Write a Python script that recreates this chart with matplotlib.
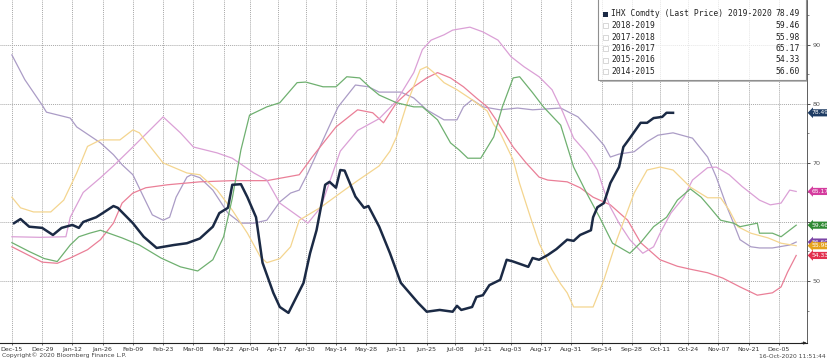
import matplotlib
matplotlib.use("Agg")
import matplotlib.pyplot as plt
from matplotlib.patches import Rectangle

# ---------------- data (x = calendar days after Dec-15) ----------------
tick_days = [0, 14, 28, 42, 56, 70, 84, 98, 110, 123, 136, 150, 164, 178, 192,
             205, 218, 231, 245, 259, 273, 287, 300, 313, 327, 341, 355]
tick_labels = ['Dec-15', 'Dec-29', 'Jan-12', 'Jan-26', 'Feb-09', 'Feb-23', 'Mar-08',
               'Mar-22', 'Apr-04', 'Apr-17', 'Apr-30', 'May-14', 'May-28', 'Jun-11',
               'Jun-25', 'Jul-08', 'Jul-21', 'Aug-03', 'Aug-17', 'Aug-31', 'Sep-14',
               'Sep-28', 'Oct-11', 'Oct-24', 'Nov-07', 'Nov-21', 'Dec-05']
ytick_values = [50, 60, 70, 80, 90]
ytick_labels = ['50', '', '70', '80', '90']   # "60" is hidden behind a value tag

days_2019 = [1, 4, 8, 14, 19, 23, 28, 31, 33, 39, 42, 47, 49, 56, 61, 67, 75, 81, 87, 93,
             96, 100, 102, 106, 109, 113, 116, 121, 124, 128, 135, 138, 141, 145, 147, 150,
             152, 154, 159, 163, 165, 170, 175, 180, 188, 192, 198, 204, 206, 208, 213, 215,
             218, 221, 226, 229, 232, 239, 241, 244, 248, 252, 257, 260, 263, 268, 269, 271,
             274, 277, 281, 283, 286, 291, 294, 297, 301, 303, 306]
vals_2019 = [59.8, 60.5, 59.2, 59.0, 57.8, 59.0, 59.5, 59.0, 60.0, 60.8, 61.5, 62.7, 62.4,
             59.8, 57.5, 55.6, 56.1, 56.4, 57.2, 59.2, 61.5, 62.4, 66.3, 66.4, 64.2, 60.8,
             53.1, 48.0, 45.6, 44.6, 49.7, 54.7, 58.6, 66.3, 66.8, 65.8, 68.8, 68.7, 64.3,
             62.4, 62.7, 59.2, 54.7, 49.7, 46.3, 44.8, 45.1, 44.8, 45.8, 45.1, 45.6, 47.3,
             47.6, 49.3, 50.2, 53.6, 53.3, 52.4, 53.9, 53.6, 54.4, 55.4, 57.0, 56.8, 57.8,
             58.6, 60.8, 62.5, 63.2, 66.6, 69.3, 72.7, 74.2, 76.8, 76.8, 77.6, 77.8, 78.5,
             78.49]

days_2018 = [0, 8, 15, 21, 27, 31, 36, 41, 51, 59, 69, 78, 86, 93, 98, 102, 106, 110, 118,
             124, 132, 136, 144, 150, 155, 161, 166, 170, 178, 186, 190, 197, 203, 207, 211,
             217, 223, 227, 232, 235, 241, 246, 254, 260, 266, 272, 278, 286, 291, 297, 303,
             308, 314, 319, 323, 328, 334, 337, 345, 346, 352, 356, 363]
vals_2018 = [56.5, 55.0, 53.8, 53.3, 56.1, 57.5, 58.1, 58.6, 57.3, 56.1, 53.9, 52.4, 51.7,
             53.6, 57.5, 64.0, 72.2, 78.1, 79.5, 80.2, 83.6, 83.7, 82.9, 82.9, 84.6, 84.4,
             82.7, 81.5, 80.2, 79.5, 79.5, 77.3, 73.4, 72.2, 70.8, 70.8, 74.4, 79.5, 84.4,
             84.6, 81.9, 79.5, 76.4, 69.3, 64.9, 60.8, 56.4, 54.7, 56.5, 59.2, 60.8, 63.7,
             65.6, 64.2, 62.5, 60.3, 59.8, 59.2, 59.8, 58.1, 58.1, 57.5, 59.46]

days_2017 = [0, 4, 10, 18, 24, 30, 35, 41, 50, 56, 59, 70, 81, 87, 95, 102, 109, 115, 118,
             124, 129, 133, 143, 152, 160, 170, 175, 178, 183, 189, 192, 195, 200, 206, 213,
             220, 223, 226, 232, 235, 240, 244, 250, 254, 257, 260, 269, 274, 280, 288, 294,
             300, 306, 314, 322, 328, 332, 336, 342, 350, 356, 363]
vals_2017 = [64.2, 62.4, 61.7, 61.7, 63.7, 68.3, 72.8, 73.9, 73.9, 75.6, 75.1, 70.0, 68.3,
             68.0, 65.4, 62.0, 58.1, 54.1, 53.1, 53.8, 55.8, 60.3, 62.5, 64.9, 67.0, 69.5,
             72.0, 74.4, 80.2, 85.8, 86.3, 85.4, 83.6, 82.4, 80.7, 78.8, 76.5, 75.1, 70.5,
             66.5, 60.8, 56.4, 51.9, 49.5, 48.0, 45.6, 45.6, 50.2, 57.0, 64.9, 68.8, 69.3,
             68.8, 65.9, 64.1, 64.1, 62.0, 59.2, 58.1, 57.3, 56.4, 55.98]

days_2016 = [0, 13, 25, 27, 33, 41, 47, 56, 70, 78, 84, 95, 102, 112, 118, 124, 137, 143,
             152, 160, 170, 178, 186, 190, 194, 200, 204, 212, 218, 225, 231, 237, 244, 250,
             255, 260, 266, 271, 274, 277, 281, 286, 292, 297, 300, 305, 311, 315, 322, 326,
             332, 338, 346, 351, 356, 360, 363]
vals_2016 = [57.5, 57.4, 57.5, 60.8, 65.0, 67.5, 69.5, 72.7, 77.8, 75.1, 72.7, 71.7, 70.8,
             68.3, 67.1, 63.2, 59.8, 62.5, 72.0, 75.5, 77.5, 80.5, 85.3, 89.2, 90.8, 91.7,
             92.5, 93.0, 92.2, 90.8, 88.0, 86.3, 84.6, 82.4, 78.6, 74.2, 71.7, 68.8, 65.4,
             62.5, 59.8, 57.0, 54.7, 55.8, 58.1, 61.5, 64.2, 67.1, 69.2, 69.3, 68.0, 66.0,
             63.7, 62.9, 63.2, 65.4, 65.17]

days_2015 = [0, 14, 21, 27, 35, 41, 47, 51, 56, 62, 72, 81, 87, 102, 118, 133, 139, 150,
             160, 167, 172, 178, 186, 192, 197, 203, 209, 215, 220, 225, 232, 238, 244, 248,
             257, 263, 269, 277, 285, 291, 300, 308, 314, 322, 329, 337, 345, 352, 356, 359,
             363]
vals_2015 = [55.8, 53.2, 53.0, 53.9, 55.3, 57.0, 59.8, 63.2, 64.9, 65.8, 66.3, 66.6, 66.8,
             67.0, 67.0, 68.0, 71.0, 76.1, 79.0, 78.5, 76.8, 80.2, 82.9, 84.4, 85.3, 84.4,
             82.9, 81.0, 79.5, 76.8, 72.7, 70.0, 67.6, 67.1, 66.8, 65.8, 64.2, 62.9, 60.3,
             56.5, 53.6, 52.5, 52.0, 51.4, 50.5, 49.0, 47.6, 48.0, 49.0, 51.5, 54.33]

days_2014 = [0, 6, 14, 16, 27, 30, 41, 47, 51, 56, 61, 65, 70, 73, 76, 81, 83, 87, 93, 100,
             106, 112, 118, 124, 129, 133, 137, 144, 151, 159, 165, 170, 180, 186, 192, 200,
             206, 209, 213, 218, 226, 234, 241, 254, 262, 269, 274, 277, 281, 288, 294, 299,
             306, 313, 315, 322, 326, 331, 334, 337, 342, 346, 352, 360, 363]
vals_2014 = [88.3, 84.1, 79.8, 78.6, 77.6, 76.1, 73.4, 71.4, 69.7, 68.0, 64.2, 61.2, 60.3,
             60.8, 64.2, 67.6, 68.0, 67.5, 65.4, 61.5, 59.8, 59.8, 60.3, 63.4, 64.9, 65.4,
             68.3, 73.9, 79.5, 83.2, 82.9, 82.0, 82.0, 81.0, 79.0, 77.3, 77.3, 79.5, 80.7,
             79.5, 79.0, 79.3, 79.0, 79.3, 77.8, 75.1, 73.0, 71.0, 71.5, 71.9, 73.6, 74.7,
             75.1, 74.4, 74.2, 71.0, 67.6, 62.5, 59.8, 57.0, 55.8, 55.6, 55.6, 56.1, 56.60]

series_names = ['IHX Comdty (Last Price) 2019-2020', '2018-2019', '2017-2018',
                '2016-2017', '2015-2016', '2014-2015']
last_values = [78.49, 59.46, 55.98, 65.17, 54.33, 56.60]
line_colors = ['#1b2a45', '#6fb070', '#f4d58f', '#dba0d6', '#ea7f97', '#ab9cc6']
tag_colors = ['#1d3b63', '#2f8a33', '#e5a21c', '#d43c9e', '#e2314f', '#7b45a6']

W, H = 828, 360
fig = plt.figure(figsize=(W / 100, H / 100), dpi=100)
fig.patch.set_facecolor('white')
ax_left, ax_right, ax_bottom = 0, 807, 343
ax = fig.add_axes([ax_left / W, 1 - ax_bottom / H, (ax_right - ax_left) / W, ax_bottom / H])
ax.set_xlim(-5.5, 368)
ax.set_ylim(39.5, 97.6)

# grid
for d in tick_days:
    ax.axvline(d, color='#a8a8a8', lw=0.7, ls=(0, (1, 1)), zorder=1)
for v in ytick_values:
    ax.axhline(v, color='#a8a8a8', lw=0.7, ls=(0, (1, 1)), zorder=1)

all_days = [days_2019, days_2018, days_2017, days_2016, days_2015, days_2014]
all_vals = [vals_2019, vals_2018, vals_2017, vals_2016, vals_2015, vals_2014]
for i in range(5, 0, -1):
    ax.plot(all_days[i], all_vals[i], color=line_colors[i], lw=0.9, zorder=2)
ax.plot(days_2019, vals_2019, color=line_colors[0], lw=1.8, zorder=3,
        solid_joinstyle='round')

# axes styling
for s in ['top', 'left']:
    ax.spines[s].set_visible(False)
ax.spines['bottom'].set_color('#222222')
ax.spines['bottom'].set_linewidth(0.8)
ax.spines['right'].set_color('#444444')
ax.spines['right'].set_linewidth(0.6)
ax.yaxis.tick_right()
ax.set_yticks(ytick_values)
ax.set_yticklabels(ytick_labels)
ax.set_yticks([45, 55, 65, 75, 85, 95], minor=True)
ax.tick_params(axis='y', which='major', labelsize=4.6, length=2.5, width=0.6, pad=1.5,
               colors='#333333')
ax.tick_params(axis='y', which='minor', length=1.2, width=0.5, colors='#555555')
for lab in ax.get_yticklabels():
    lab.set_color('#555555')
ax.set_xticks(tick_days)
ax.set_xticklabels(tick_labels)
ax.tick_params(axis='x', labelsize=4.5, length=1.5, width=0.5, pad=1.5, colors='#333333')
ax.annotate('', xy=(1.003, 0), xytext=(0.99, 0), xycoords='axes fraction',
            arrowprops=dict(arrowstyle='-|>', color='#222222', lw=0.6,
                            mutation_scale=4))

# value tags on the right
order = [3, 1, 5, 2, 4, 0]
for i in order:
    ax.text(1.0 + 4.5 / 807, last_values[i], f'{last_values[i]:.2f}',
            transform=ax.get_yaxis_transform(), ha='left', va='center',
            fontsize=4.3, color='white', clip_on=False, zorder=10,
            bbox=dict(boxstyle='larrow,pad=0.18', fc=tag_colors[i], ec='none'))


def fx(x):
    return x / W


def fy(y):
    return 1 - y / H


# legend
shadow_r = Rectangle((fx(806), fy(81.5)), fx(1.5), fy(0) - fy(80),
                     transform=fig.transFigure, fc='#bdbdbd', ec='none', zorder=4)
shadow_b = Rectangle((fx(600), fy(81.5)), fx(207.5), fy(0) - fy(1.5),
                     transform=fig.transFigure, fc='#bdbdbd', ec='none', zorder=4)
box = Rectangle((fx(598), fy(80)), fx(806) - fx(598), fy(-2) - fy(80),
                transform=fig.transFigure, fc=(1, 1, 1, 0.72), ec='#8f8f8f', lw=0.8,
                zorder=5)
fig.patches.extend([shadow_r, shadow_b, box])
row_y = [14, 25.5, 37, 48.5, 60, 71.5]
for i, name in enumerate(series_names):
    y = row_y[i]
    if i == 0:
        fig.patches.append(Rectangle((fx(603.5), fy(y + 2.6)), fx(5), fy(0) - fy(5),
                                     transform=fig.transFigure, fc='#1b2a45',
                                     ec='none', zorder=6))
    else:
        fig.patches.append(Rectangle((fx(603.5), fy(y + 2.6)), fx(5), fy(0) - fy(5),
                                     transform=fig.transFigure, fc='white',
                                     ec='#c8c8c8', lw=0.5, zorder=6))
    fig.text(fx(611), fy(y), name, fontsize=5.8, family='DejaVu Sans Mono',
             color='#222222', ha='left', va='center', zorder=7)
    fig.text(fx(800), fy(y), f'{last_values[i]:.2f}', fontsize=5.8,
             family='DejaVu Sans Mono', color='#222222', ha='right', va='center',
             zorder=7)

fig.text(fx(2), fy(355.5), 'Copyright\u00a9 2020 Bloomberg Finance L.P.', fontsize=4.3,
         color='#444444', ha='left', va='center')
fig.text(fx(826), fy(356.5), '16-Oct-2020 11:51:44', fontsize=4.3, color='#444444',
         ha='right', va='center')

fig.savefig('out.png', dpi=100, facecolor='white')
